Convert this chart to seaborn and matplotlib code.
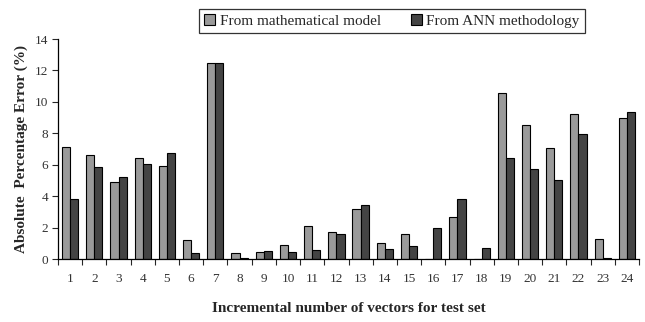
import matplotlib
matplotlib.use("Agg")
import matplotlib.pyplot as plt
import seaborn as sns
import pandas as pd
import numpy as np
from matplotlib.ticker import FixedLocator
from matplotlib.patches import Patch

categories = [str(i) for i in range(1, 25)]
math_model = [7.1, 6.6, 4.88, 6.45, 5.92, 1.19, 12.5, 0.36, 0.45, 0.89, 2.08, 1.72,
              3.2, 1.04, 1.57, 0.0, 2.69, 0.0, 10.58, 8.53, 7.04, 9.2, 1.27, 9.0]
ann_model = [3.8, 5.85, 5.24, 6.07, 6.75, 0.36, 12.5, 0.08, 0.5, 0.45, 0.6, 1.57,
             3.44, 0.66, 0.8, 2.0, 3.8, 0.72, 6.45, 5.7, 5.0, 7.93, 0.08, 9.37]
series_names = ["From mathematical model", "From ANN methodology"]
colors = ["#9a9a9a", "#444444"]

df = pd.DataFrame({
    "vector": categories * 2,
    "error": math_model + ann_model,
    "series": [series_names[0]] * 24 + [series_names[1]] * 24,
})

sns.set_style("white")
plt.rcParams["font.family"] = ["Liberation Serif", "DejaVu Serif"]

fig = plt.figure(figsize=(6.45, 3.22), dpi=100)
ax = fig.add_axes([58 / 645, 1 - 259 / 322, (639 - 58) / 645, (259 - 39) / 322])

sns.barplot(data=df, x="vector", y="error", hue="series", order=categories,
            hue_order=series_names, palette=colors, width=0.67,
            edgecolor="black", linewidth=0.8, ax=ax, legend=False, saturation=1)

ax.set_xlim(-0.5, 23.5)
ax.set_ylim(0, 14)
ax.set_yticks(np.arange(0, 15, 2))
ax.set_yticklabels([str(v) for v in range(0, 15, 2)], fontsize=9.5, color="#333333")
ax.set_xticks(range(24))
ax.set_xticklabels(categories, fontsize=9.5, color="#333333")
ax.xaxis.set_minor_locator(FixedLocator(np.arange(-0.5, 24, 1)))
ax.tick_params(axis="x", which="major", length=0, pad=10)
ax.tick_params(axis="x", which="minor", length=4, width=0.8, direction="out", bottom=True)
ax.tick_params(axis="y", length=4, width=0.8, direction="out", left=True, pad=3)

for s in ["top", "right"]:
    ax.spines[s].set_visible(False)
for s in ["left", "bottom"]:
    ax.spines[s].set_color("black")
    ax.spines[s].set_linewidth(0.9)

ax.set_ylabel("Absolute  Percentage Error (%)", fontsize=11, fontweight="bold", labelpad=5)
ax.set_xlabel("Incremental number of vectors for test set", fontsize=11,
              fontweight="bold", labelpad=12)

handles = [Patch(facecolor=c, edgecolor="black", linewidth=0.8) for c in colors]
leg = fig.legend(handles, series_names, loc="center", bbox_to_anchor=(392 / 645, 1 - 21 / 322),
                 ncol=2, fontsize=11, frameon=True, fancybox=False, edgecolor="black",
                 handlelength=0.7, handleheight=0.7, handletextpad=0.3, columnspacing=2.0,
                 borderpad=0.35)
leg.get_frame().set_linewidth(0.9)

fig.savefig("out.png", dpi=100)
